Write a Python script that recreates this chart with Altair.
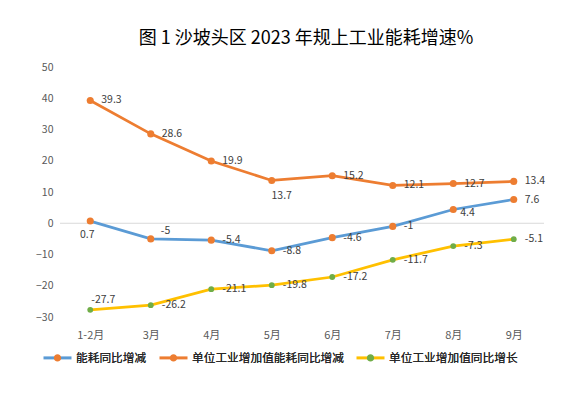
import altair as alt
import pandas as pd

MONTHS = ["1-2月", "3月", "4月", "5月", "6月", "7月", "8月", "9月"]
SERIES = ["能耗同比增减", "单位工业增加值能耗同比增减", "单位工业增加值同比增长"]
ENERGY = [0.7, -5, -5.4, -8.8, -4.6, -1, 4.4, 7.6]
UNIT_ENERGY = [39.3, 28.6, 19.9, 13.7, 15.2, 12.1, 12.7, 13.4]
VALUE_ADDED = [-27.7, -26.2, -21.1, -19.8, -17.2, -11.7, -7.3, -5.1]
Y_TICKS = [-30, -20, -10, 0, 10, 20, 30, 40, 50]
TITLE = "图 1 沙坡头区 2023 年规上工业能耗增速%"

LINE_COLORS = ["#5B9BD5", "#ED7D31", "#FFC000"]
MARKER_COLORS = ["#ED7D31", "#ED7D31", "#70AD47"]

# where data labels sit relative to their point (default: right)
PLACEMENT = {
    ("能耗同比增减", "1-2月"): "below",
    ("能耗同比增减", "3月"): "upright",
    ("能耗同比增减", "8月"): "lowright",
    ("单位工业增加值能耗同比增减", "5月"): "below2",
    ("单位工业增加值同比增长", "1-2月"): "above",
}

FONT = "Noto Sans CJK SC"

rows = []
for s, vals in zip(SERIES, [ENERGY, UNIT_ENERGY, VALUE_ADDED]):
    for m, v in zip(MONTHS, vals):
        rows.append({
            "series": s, "series_m": s, "month": m, "value": v,
            "label": f"{v:g}", "place": PLACEMENT.get((s, m), "right"),
        })
df = pd.DataFrame(rows)

X = alt.X("month:N", sort=MONTHS, title=None,
          scale=alt.Scale(type="point", padding=0.5),
          axis=alt.Axis(domain=False, ticks=False, tickSize=0, grid=False, labelAngle=0,
                        labelPadding=12, labelFontSize=11, labelFont=FONT,
                        labelColor="#595959"))
Y = alt.Y("value:Q", title=None,
          scale=alt.Scale(domain=[-30, 50], nice=False, zero=False),
          axis=alt.Axis(values=Y_TICKS, domain=False, ticks=False, tickSize=0, grid=False,
                        labelPadding=7, labelFontSize=10.5, labelFont=FONT,
                        labelColor="#595959"))

zero = alt.Chart(pd.DataFrame({"value": [0]})).mark_rule(
    color="#D9D9D9", strokeWidth=1).encode(y=Y)

base = alt.Chart(df)

LEG_Y = 275
SYM = 784
COLPAD = 6
LEG_FS = 11.7
lines = base.mark_line(strokeWidth=2.75).encode(
    x=X, y=Y,
    stroke=alt.Stroke("series:N", sort="descending",
                      scale=alt.Scale(range=LINE_COLORS),
                      legend=alt.Legend(orient="none", legendX=-18, legendY=LEG_Y,
                                        direction="horizontal", title=None,
                                        symbolType="M-1,0L1,0", symbolSize=SYM,
                                        symbolStrokeWidth=3, labelFontSize=LEG_FS,
                                        labelFont=FONT, labelColor="#262626",
                                        labelOffset=3, columnPadding=COLPAD, padding=0)),
)

points = base.mark_point(filled=True, opacity=1, strokeWidth=0).encode(
    x=X, y=Y,
    fill=alt.Fill("series_m:N", sort="descending",
                  scale=alt.Scale(range=MARKER_COLORS),
                  legend=alt.Legend(orient="none", legendX=-18, legendY=LEG_Y,
                                    direction="horizontal", title=None,
                                    symbolType="M-1,0L1,0M-0.26,0A0.26,0.26 0 1,0 0.26,0A0.26,0.26 0 1,0 -0.26,0Z",
                                    symbolSize=SYM, symbolStrokeWidth=3,
                                    symbolStrokeColor="transparent", symbolOpacity=1,
                                    labelFontSize=LEG_FS, labelFont=FONT,
                                    labelColor="#262626", labelOffset=3,
                                    columnPadding=COLPAD, padding=0)),
    size=alt.condition(alt.datum.series == SERIES[2], alt.value(34), alt.value(50)),
)

PLACE_STYLE = {
    "right": dict(align="left", dx=11, dy=0),
    "below": dict(align="center", dx=-3, dy=14),
    "below2": dict(align="center", dx=10, dy=16),
    "above": dict(align="left", dx=1, dy=-10),
    "upright": dict(align="left", dx=10, dy=-8),
    "lowright": dict(align="left", dx=7, dy=3),
}

texts = []
for place, st in PLACE_STYLE.items():
    texts.append(
        base.transform_filter(alt.datum.place == place).mark_text(
            baseline="middle", fontSize=10.5, font=FONT, color="#404040", **st
        ).encode(x=X, y=Y, text="label:N")
    )

chart = alt.layer(zero, lines, points, *texts).properties(
    width=484, height=250,
    autosize=alt.AutoSizeParams(type="none"),
    padding={"left": 52, "top": 59, "right": 25, "bottom": 60},
    title=alt.TitleParams(TITLE, fontSize=18, font=FONT, fontWeight="normal",
                          color="#000000", anchor="middle", dx=4, offset=14),
).configure_view(stroke=None)

chart.save("out.html", embed_options={"renderer": "svg", "actions": False})
